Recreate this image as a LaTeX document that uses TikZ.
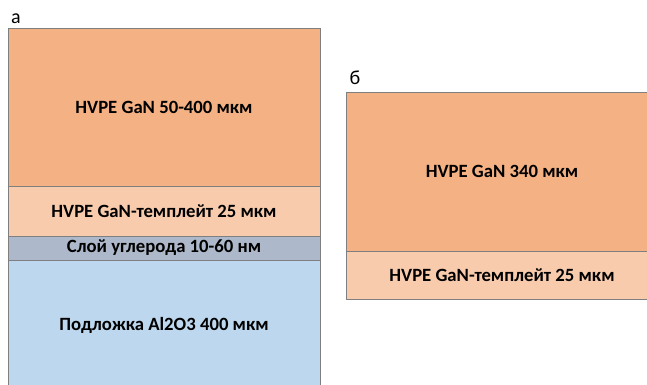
\documentclass[tikz,border=0pt]{standalone}
\usepackage{fontspec}
\setmainfont{Carlito}
\definecolor{ganc}{HTML}{F4B183}
\definecolor{tmplc}{HTML}{F8CBAD}
\definecolor{carbc}{HTML}{ADB9CA}
\definecolor{subc}{HTML}{BDD7EE}
\definecolor{edgec}{HTML}{7F7F7F}
\tikzset{
  layer/.style={draw=edgec, line width=0.8pt, minimum width=312pt, inner sep=0pt, font=\fontsize{18.7}{22}\selectfont\bfseries, text=black},
  panellabel/.style={font=\fontsize{20}{24}\selectfont, text=black, inner sep=0pt}
}
\begin{document}
\begin{tikzpicture}[x=1pt,y=1pt]
\useasboundingbox[clip] (0,0) rectangle (647,384);
\fill[white] (0,0) rectangle (647,384);
% left stack (а)
\node[layer, fill=ganc, minimum height=158pt] (ganA) at (164,277) {HVPE GaN 50-400 мкм};
\node[layer, fill=tmplc, minimum height=50pt] (tmplA) at (164,173) {HVPE GaN-темплейт 25 мкм};
\node[layer, fill=carbc, minimum height=24pt] (carbA) at (164,136) {Слой углерода 10-60 нм};
\node[layer, fill=subc, minimum height=130pt] (subA) at (164,59) {Подложка Al2O3 400 мкм};
% right stack (б)
\node[layer, fill=ganc, minimum height=159pt] (ganB) at (502,212.5) {HVPE GaN 340 мкм};
\node[layer, fill=tmplc, minimum height=48pt] (tmplB) at (502,109) {HVPE GaN-темплейт 25 мкм};
% panel labels
\node[panellabel] (labA) at (16,365) {а};
\node[panellabel] (labB) at (355,306) {б};
\end{tikzpicture}
\end{document}
